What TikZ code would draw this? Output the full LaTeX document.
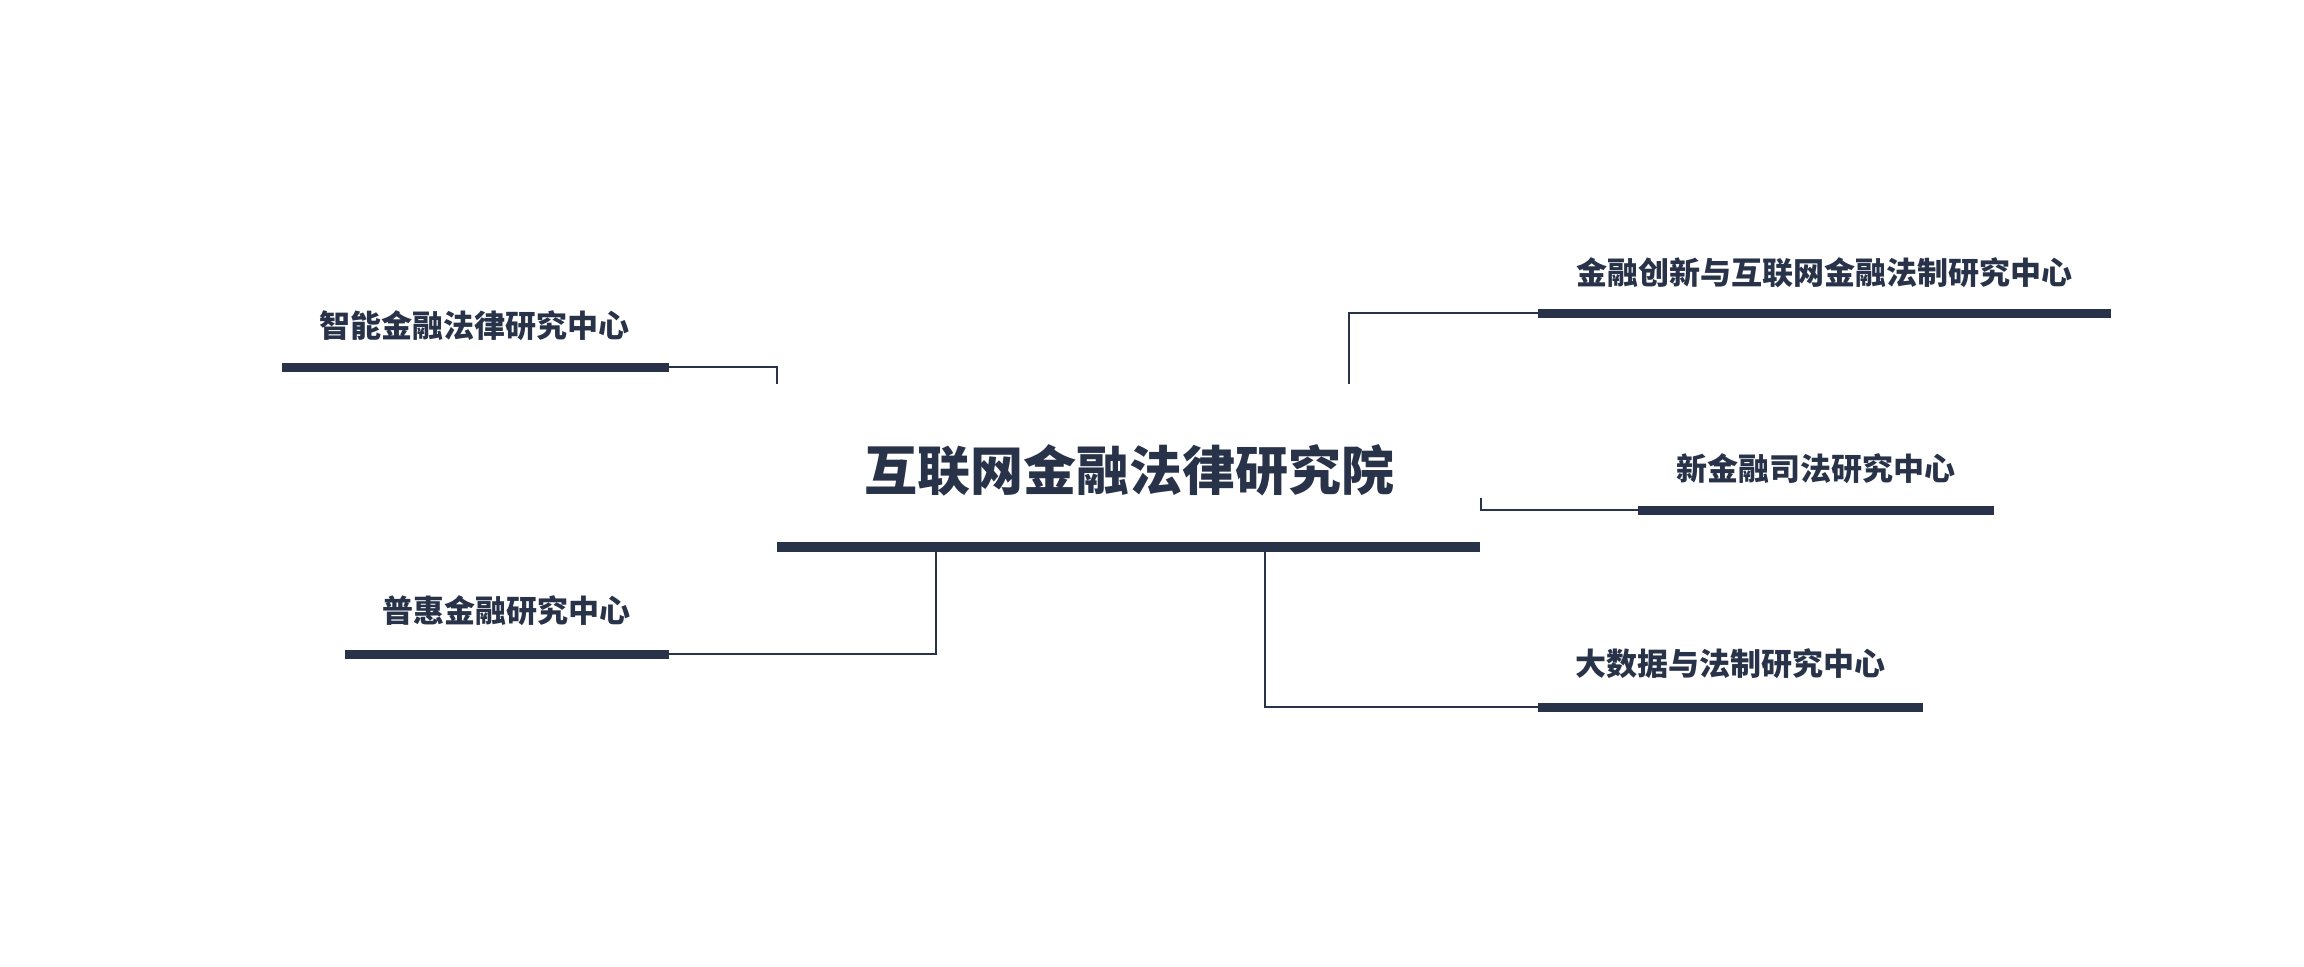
\documentclass[tikz,border=0pt]{standalone}
\usepackage{fontspec}
\newfontfamily\cjk{Noto Sans CJK SC}
\definecolor{navy}{HTML}{283248}
\tikzset{
  bar/.style={rectangle, fill=navy, inner sep=0pt, minimum height=4.5pt},
  mainbar/.style={rectangle, fill=navy, inner sep=0pt, minimum height=5pt},
  lbl/.style={inner sep=0pt, text=navy, font=\cjk\bfseries\fontsize{15.5pt}{16pt}\selectfont},
  mainlbl/.style={inner sep=0pt, text=navy, font=\cjk\bfseries\fontsize{26.5pt}{28pt}\selectfont},
  conn/.style={draw=navy, line width=1.1pt},
}
\begin{document}
\begin{tikzpicture}[x=0.5pt,y=-0.5pt]
\useasboundingbox (0,0) rectangle (2304,966);
% bars
\node[mainbar, minimum width=351.5pt] (mb) at (1128.5,547) {};
\node[bar, minimum width=193.5pt] (b1) at (475.5,367) {};
\node[bar, minimum width=162pt] (b2) at (507,654) {};
\node[bar, minimum width=286.5pt] (r1) at (1824.5,313) {};
\node[bar, minimum width=178pt] (r2) at (1816,510) {};
\node[bar, minimum width=192.5pt] (r3) at (1730.5,707) {};
% labels
\node[mainlbl] (tm) at (1129,470) {互联网金融法律研究院};
\node[lbl] (t1) at (474.5,326) {智能金融法律研究中心};
\node[lbl] (t2) at (506,611) {普惠金融研究中心};
\node[lbl] (tr1) at (1824,273) {金融创新与互联网金融法制研究中心};
\node[lbl] (tr2) at (1815.5,469) {新金融司法研究中心};
\node[lbl] (tr3) at (1730,664) {大数据与法制研究中心};
% connector ends
\coordinate (k1) at (777,384);
\coordinate (k2) at (936,550);
\coordinate (k3) at (1349,384);
\coordinate (k4) at (1481,498);
\coordinate (k5) at (1265,550);
% connectors
\draw[conn] (b1.east) -| (k1);
\draw[conn] (b2.east) -| (k2);
\draw[conn] (r1.west) -| (k3);
\draw[conn] (r2.west) -| (k4);
\draw[conn] (r3.west) -| (k5);
\end{tikzpicture}
\end{document}
